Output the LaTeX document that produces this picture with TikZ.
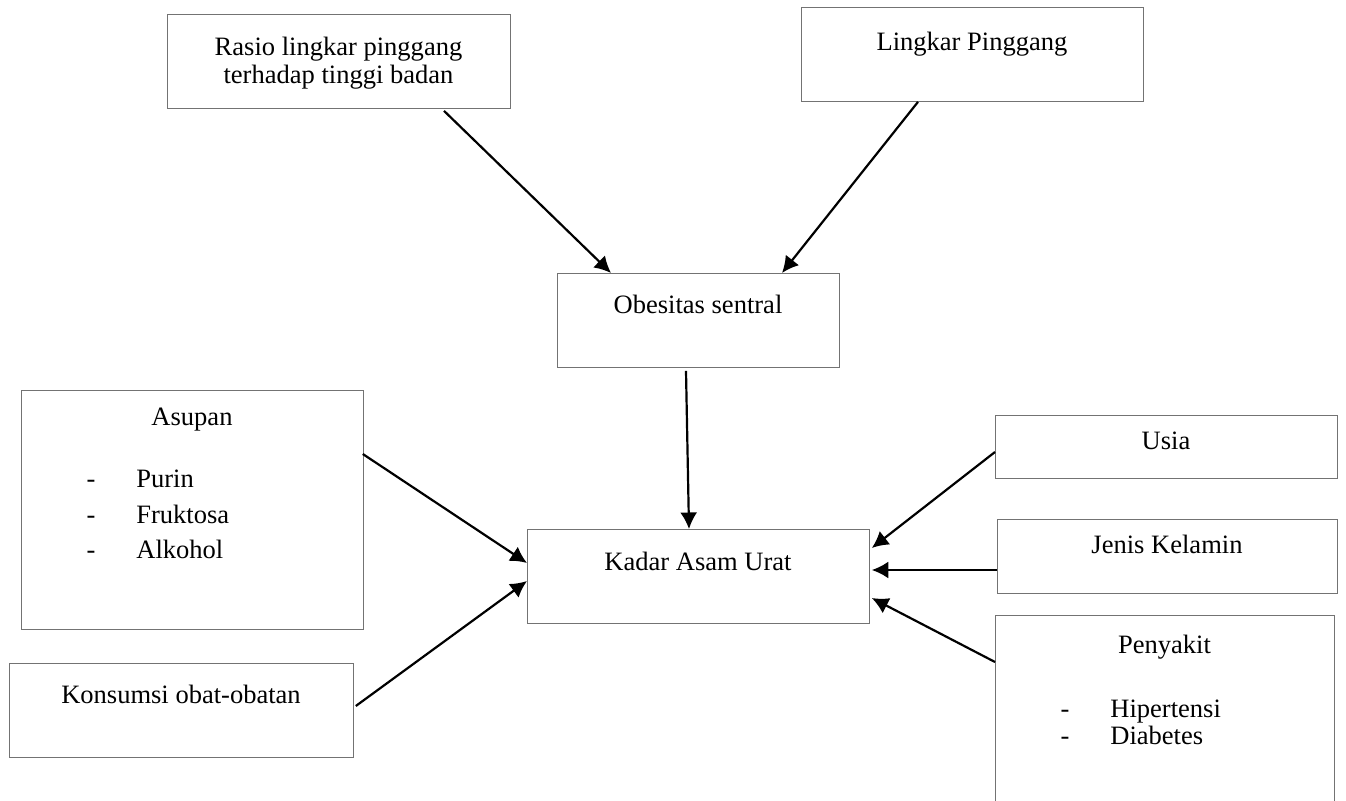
\documentclass[tikz,border=0pt]{standalone}
\usepackage{fontspec}
\setmainfont{Liberation Serif}
\usetikzlibrary{arrows.meta,calc}

\begin{document}
\begin{tikzpicture}[x=0.02cm, y=-0.02cm, font=\fontsize{15.1}{17}\selectfont,
	kotak/.style={draw=black!55, line width=0.5pt, rectangle, inner sep=0pt, anchor=north west},
	teks/.style={inner sep=0pt, anchor=base},
	panah/.style={line width=1.25pt, -{Latex[length=3.3mm, width=3.4mm]}}]
	\useasboundingbox (0,0) rectangle (1346,801);
	% kotak-kotak
	\node[kotak, minimum width=6.86cm, minimum height=1.88cm] (rasio) at (167,14) {};
	\node[kotak, minimum width=6.84cm, minimum height=1.88cm] (lingkar) at (801,7) {};
	\node[kotak, minimum width=5.64cm, minimum height=1.88cm] (obesitas) at (557,273) {};
	\node[kotak, minimum width=6.84cm, minimum height=4.78cm] (asupan) at (21,390) {};
	\node[kotak, minimum width=6.84cm, minimum height=1.88cm] (kadar) at (527,529) {};
	\node[kotak, minimum width=6.84cm, minimum height=1.26cm] (usia) at (995,415) {};
	\node[kotak, minimum width=6.80cm, minimum height=1.48cm] (kelamin) at (997,519) {};
	\node[kotak, minimum width=6.78cm, minimum height=4.3cm] (penyakit) at (995,615) {};
	\node[kotak, minimum width=6.88cm, minimum height=1.88cm] (konsumsi) at (9,663) {};
	% teks
	\node[teks] (rasioA) at (338.5,55) {Rasio lingkar pinggang};
	\node[teks] (rasioB) at (338.5,83) {terhadap tinggi badan};
	\node[teks] (lingkarT) at (972,51) {Lingkar Pinggang};
	\node[teks] (obesitasT) at (698,313) {Obesitas sentral};
	\node[teks] (asupanT) at (192,425) {Asupan};
	\node[teks] (dashA) at (91,487) {-};
	\node[teks] (dashB) at (91,523) {-};
	\node[teks] (dashC) at (91,558) {-};
	\node[teks, anchor=base west] (purin) at (136,487) {Purin};
	\node[teks, anchor=base west] (fruktosa) at (136,523) {Fruktosa};
	\node[teks, anchor=base west] (alkohol) at (136,558) {Alkohol};
	\node[teks] (kadarT) at (698,570) {Kadar Asam Urat};
	\node[teks] (usiaT) at (1166,449) {Usia};
	\node[teks] (kelaminT) at (1167,553) {Jenis Kelamin};
	\node[teks] (penyakitT) at (1164.5,653) {Penyakit};
	\node[teks] (dashD) at (1065,717) {-};
	\node[teks] (dashE) at (1065,744) {-};
	\node[teks, anchor=base west] (hipertensi) at (1110,717) {Hipertensi};
	\node[teks, anchor=base west] (diabetes) at (1110,744) {Diabetes};
	\node[teks] (konsumsiT) at (181,703) {Konsumsi obat-obatan};
	% panah
	\draw[panah] ($(rasio.south west)+(277,2)$) -- ($(obesitas.north west)+(54,0)$);
	\draw[panah] ($(lingkar.south west)+(117,0)$) -- ($(obesitas.north west)+(225,0)$);
	\draw[panah] ($(obesitas.south west)+(129,3)$) -- ($(kadar.north west)+(162,0)$);
	\draw[panah] ($(asupan.north east)+(-1,64)$) -- ($(kadar.north west)+(0,34)$);
	\draw[panah] ($(konsumsi.north east)+(2,43)$) -- ($(kadar.north west)+(0,52)$);
	\draw[panah] ($(usia.north west)+(0,37)$) -- ($(kadar.north east)+(2,19)$);
	\draw[panah] ($(kelamin.north west)+(0,51)$) -- ($(kadar.north east)+(2,41)$);
	\draw[panah] ($(penyakit.north west)+(0,47)$) -- ($(kadar.north east)+(2,69)$);
\end{tikzpicture}
\end{document}
